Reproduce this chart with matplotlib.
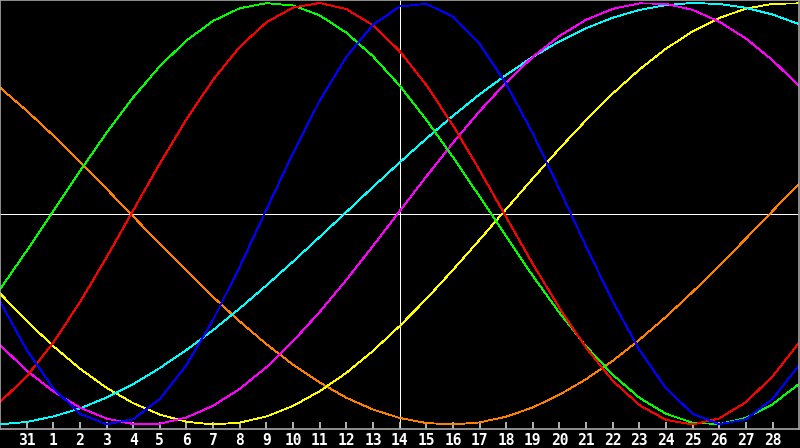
import matplotlib

matplotlib.use("Agg")
import matplotlib.pyplot as plt
import numpy as np

# day index 0..30 ; index 15 is "today" (the 14th)
days = np.arange(31)
tick_pos = np.arange(1, 30)
tick_labels = ["31"] + [str(d) for d in range(1, 29)]
today = 15

physical = [-0.416, -0.646, -0.828, -0.949, -0.999, -0.975, -0.879, -0.718, -0.503, -0.251,
            0.019, 0.288, 0.536, 0.744, 0.896, 0.983, 0.996, 0.936, 0.806, 0.616,
            0.381, 0.117, -0.155, -0.416, -0.646, -0.828, -0.949, -0.999, -0.975, -0.879,
            -0.718]
emotional = [-0.894, -0.772, -0.611, -0.420, -0.207, 0.016, 0.238, 0.448, 0.636, 0.792,
             0.908, 0.978, 1.000, 0.971, 0.894, 0.772, 0.611, 0.420, 0.207, -0.016,
             -0.238, -0.448, -0.636, -0.792, -0.908, -0.978, -1.000, -0.971, -0.894, -0.772,
             -0.611]
intellectual = [-0.359, -0.176, 0.013, 0.202, 0.384, 0.552, 0.700, 0.822, 0.915, 0.975,
                0.999, 0.988, 0.941, 0.859, 0.747, 0.608, 0.446, 0.269, 0.082, -0.108,
                -0.295, -0.470, -0.629, -0.764, -0.873, -0.949, -0.992, -0.998, -0.969, -0.904,
                -0.807]
intuitive = [-0.623, -0.744, -0.843, -0.920, -0.972, -0.998, -0.996, -0.967, -0.911, -0.831,
             -0.728, -0.605, -0.466, -0.314, -0.153, 0.012, 0.176, 0.336, 0.486, 0.623,
             0.744, 0.843, 0.920, 0.972, 0.998, 0.996, 0.967, 0.911, 0.831, 0.728,
             0.605]
spiritual = [-0.999, -0.988, -0.962, -0.924, -0.872, -0.808, -0.732, -0.646, -0.552, -0.449,
             -0.340, -0.227, -0.110, 0.008, 0.127, 0.243, 0.356, 0.464, 0.566, 0.659,
             0.744, 0.818, 0.880, 0.930, 0.967, 0.990, 1.000, 0.995, 0.977, 0.945,
             0.899]
aesthetic = [-0.378, -0.509, -0.628, -0.735, -0.826, -0.899, -0.953, -0.987, -1.000, -0.991,
             -0.962, -0.912, -0.842, -0.755, -0.651, -0.533, -0.405, -0.267, -0.124, 0.022,
             0.167, 0.309, 0.444, 0.570, 0.684, 0.783, 0.865, 0.929, 0.973, 0.996,
             0.998]
awareness = [0.598, 0.489, 0.371, 0.246, 0.118, -0.013, -0.144, -0.271, -0.395, -0.511,
             -0.619, -0.716, -0.801, -0.873, -0.929, -0.969, -0.993, -1.000, -0.990, -0.963,
             -0.919, -0.859, -0.785, -0.698, -0.598, -0.489, -0.371, -0.246, -0.118, 0.013,
             0.144]

series = [
    (awareness, "#ff8000"),
    (aesthetic, "#ffff00"),
    (spiritual, "#00ffff"),
    (intuitive, "#ff00ff"),
    (intellectual, "#00ff00"),
    (emotional, "#ff0000"),
    (physical, "#0000ff"),
]

fig = plt.figure(figsize=(8, 4.48), dpi=100, facecolor="black")
ax = fig.add_axes([0, 19.5 / 448, 0.999, 428.5 / 448])
ax.set_facecolor("black")

ax.axhline(0, color="white", lw=0.6, antialiased=False, zorder=1)
ax.axvline(today, color="white", lw=0.6, antialiased=False, zorder=1)

for values, color in series:
    ax.plot(days, values, color=color, lw=0.6, antialiased=False, zorder=2)

ax.set_xlim(0, 30)
ax.set_ylim(-1.019, 1.014)

for side in ["left", "top", "right", "bottom"]:
    ax.spines[side].set_color("#a8a8a8")
    ax.spines[side].set_linewidth(1.2)

ax.set_yticks([])
ax.set_xticks(tick_pos)
ax.set_xticklabels(tick_labels)
ax.tick_params(axis="x", direction="in", length=5, width=1.2, color="#d0d0d0",
               labelcolor="white", pad=3, labelsize=10.5)
for lbl in ax.get_xticklabels():
    lbl.set_fontfamily("DejaVu Sans Mono")
    lbl.set_fontweight("bold")

fig.savefig("out.png", dpi=100, facecolor="black")
